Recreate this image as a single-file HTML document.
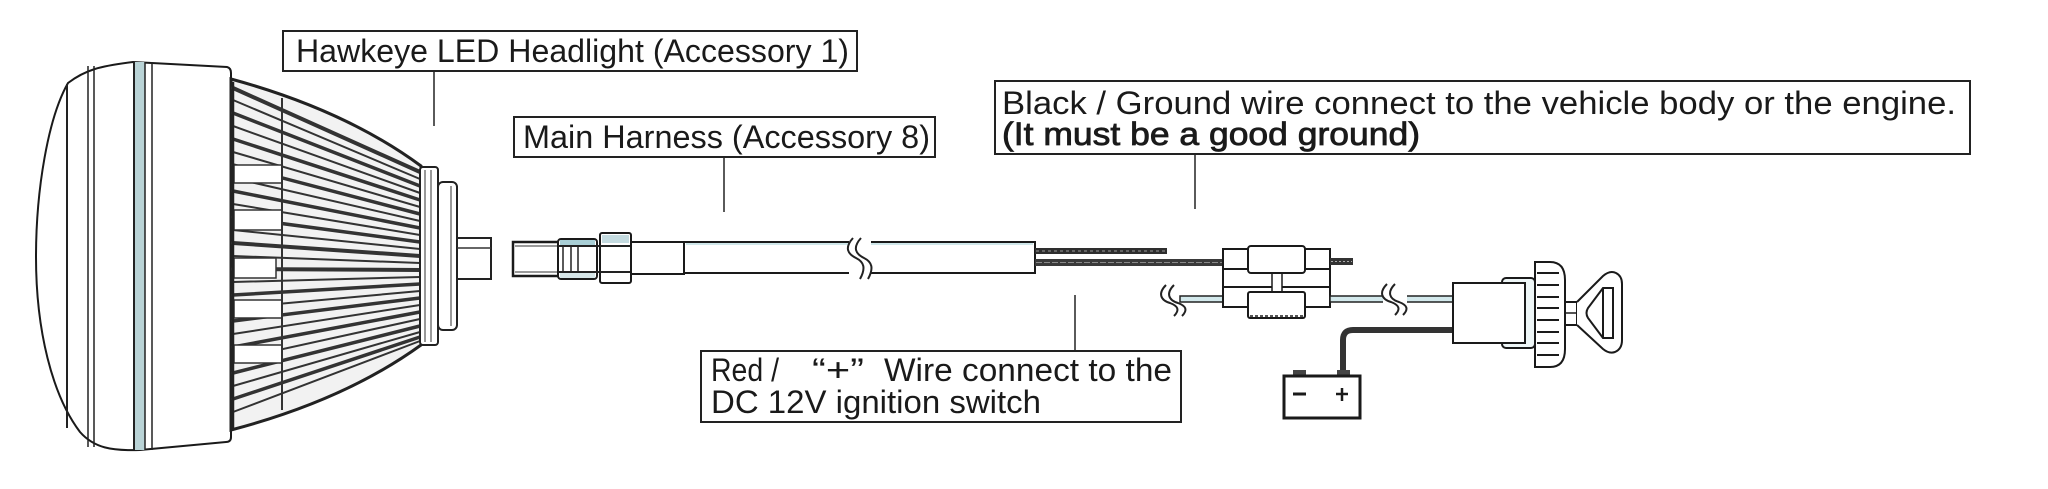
<!DOCTYPE html>
<html><head><meta charset="utf-8"><style>
html,body{margin:0;padding:0;background:#fff;}
svg{display:block;}
text{font-family:"Liberation Sans",sans-serif;fill:#1a1a1a;}
</style></head><body>
<svg width="2048" height="489" viewBox="0 0 2048 489" xmlns="http://www.w3.org/2000/svg">
<rect width="2048" height="489" fill="#fff"/>

<!-- ===== Headlight bezel ===== -->
<path d="M68,83 C85,70 100,66 133,62 L227,67 Q231,68 231,73 L231,437 Q231,442 226,442 L140,450 C112,451 94,448 80,432 C52,395 36,330 36,257 C36,190 48,118 68,83 Z" fill="#fff" stroke="#1a1a1a" stroke-width="2"/>
<line x1="67" y1="84" x2="67" y2="428" stroke="#222" stroke-width="2"/>
<line x1="88" y1="66" x2="88" y2="447" stroke="#222" stroke-width="1.5"/>
<line x1="94" y1="66" x2="94" y2="447" stroke="#222" stroke-width="1.5"/>
<rect x="135" y="62" width="10" height="388" fill="#b9d3d6"/>
<line x1="134" y1="62" x2="134" y2="450" stroke="#222" stroke-width="2"/>
<line x1="145" y1="62" x2="145" y2="450" stroke="#222" stroke-width="1.5"/>
<line x1="152" y1="62" x2="152" y2="450" stroke="#222" stroke-width="1.5"/>

<!-- ===== Heat sink ===== -->
<path d="M231,79 Q345,110 421,166 L421,345 Q345,400 231,430 Z" fill="#f2f2f2" stroke="#222" stroke-width="3"/>
<g stroke="#333" stroke-linecap="round">
<line x1="233" y1="88" x2="420" y2="172" stroke-width="4"/>
<line x1="233" y1="100" x2="420" y2="179" stroke-width="2"/>
<line x1="233" y1="113" x2="420" y2="186" stroke-width="3.5"/>
<line x1="233" y1="126" x2="420" y2="193" stroke-width="2"/>
<line x1="233" y1="139" x2="420" y2="200" stroke-width="3.5"/>
<line x1="233" y1="152" x2="420" y2="207" stroke-width="2"/>
<line x1="233" y1="165" x2="420" y2="214" stroke-width="3.5"/>
<line x1="233" y1="178" x2="420" y2="221" stroke-width="2"/>
<line x1="233" y1="191" x2="420" y2="228" stroke-width="3.5"/>
<line x1="233" y1="204" x2="420" y2="235" stroke-width="2"/>
<line x1="233" y1="217" x2="420" y2="242" stroke-width="3.5"/>
<line x1="233" y1="230" x2="420" y2="249" stroke-width="2"/>
<line x1="233" y1="243" x2="420" y2="256" stroke-width="4"/>
<line x1="233" y1="256" x2="420" y2="263" stroke-width="2"/>
<line x1="233" y1="269" x2="420" y2="270" stroke-width="4"/>
<line x1="233" y1="282" x2="420" y2="277" stroke-width="2"/>
<line x1="233" y1="295" x2="420" y2="284" stroke-width="3.5"/>
<line x1="233" y1="308" x2="420" y2="291" stroke-width="2"/>
<line x1="233" y1="321" x2="420" y2="298" stroke-width="3.5"/>
<line x1="233" y1="334" x2="420" y2="305" stroke-width="2"/>
<line x1="233" y1="347" x2="420" y2="312" stroke-width="3.5"/>
<line x1="233" y1="360" x2="420" y2="319" stroke-width="2"/>
<line x1="233" y1="373" x2="420" y2="326" stroke-width="3.5"/>
<line x1="233" y1="386" x2="420" y2="332" stroke-width="2"/>
<line x1="233" y1="399" x2="420" y2="337" stroke-width="3.5"/>
<line x1="233" y1="412" x2="420" y2="341" stroke-width="2"/>
</g>
<!-- divider / notches -->
<g fill="#fff" stroke="#333" stroke-width="1.5">
<rect x="234" y="165" width="48" height="18"/>
<rect x="234" y="210" width="48" height="20"/>
<rect x="234" y="258" width="42" height="20"/>
<rect x="234" y="300" width="48" height="18"/>
<rect x="234" y="345" width="48" height="18"/>
</g>
<line x1="282" y1="98" x2="282" y2="410" stroke="#333" stroke-width="2"/>
<line x1="233" y1="82" x2="233" y2="428" stroke="#222" stroke-width="2.5"/>
<!-- ring -->
<rect x="420" y="167" width="18" height="178" rx="3" fill="#fff" stroke="#222" stroke-width="2"/>
<line x1="425" y1="170" x2="425" y2="342" stroke="#333" stroke-width="1"/>
<line x1="431" y1="170" x2="431" y2="342" stroke="#333" stroke-width="1"/>
<!-- cap -->
<rect x="438" y="182" width="19" height="148" rx="5" fill="#fff" stroke="#222" stroke-width="2"/>
<line x1="451" y1="186" x2="451" y2="326" stroke="#333" stroke-width="1"/>
<!-- plug -->
<rect x="457" y="238" width="34" height="41" fill="#fff" stroke="#222" stroke-width="2"/>
<line x1="457" y1="248" x2="491" y2="248" stroke="#333" stroke-width="1.5"/>

<!-- ===== Connector & harness ===== -->
<rect x="513" y="242" width="47" height="34" fill="#fff" stroke="#1a1a1a" stroke-width="2.5"/>
<line x1="515" y1="246" x2="558" y2="246" stroke="#333" stroke-width="1"/>
<line x1="515" y1="272" x2="558" y2="272" stroke="#333" stroke-width="1"/>
<rect x="558" y="239" width="39" height="40" rx="3" fill="#fff" stroke="#1a1a1a" stroke-width="2"/>
<rect x="560" y="240" width="35" height="5" fill="#a9cfd6"/>
<rect x="560" y="273" width="35" height="5" fill="#d6e6e8"/>
<line x1="558" y1="246" x2="631" y2="246" stroke="#222" stroke-width="2"/>
<line x1="558" y1="272" x2="631" y2="272" stroke="#222" stroke-width="2"/>
<line x1="563" y1="246" x2="563" y2="272" stroke="#222" stroke-width="1.5"/>
<line x1="571" y1="246" x2="571" y2="272" stroke="#222" stroke-width="1.5"/>
<line x1="578" y1="246" x2="578" y2="272" stroke="#222" stroke-width="1.5"/>
<rect x="600" y="233" width="31" height="50" rx="2" fill="none" stroke="#1a1a1a" stroke-width="2"/>
<rect x="602" y="235" width="27" height="8" fill="#c4dbe0"/>
<line x1="600" y1="246" x2="631" y2="246" stroke="#222" stroke-width="2"/>
<line x1="600" y1="272" x2="631" y2="272" stroke="#222" stroke-width="2"/>
<rect x="631" y="242" width="53" height="32" fill="#fff" stroke="#1a1a1a" stroke-width="2"/>
<rect x="684" y="242" width="351" height="31" fill="#fff" stroke="#1a1a1a" stroke-width="2"/>
<line x1="686" y1="244" x2="1033" y2="244" stroke="#cfe7ea" stroke-width="2"/>
<!-- break -->
<rect x="849" y="240" width="22" height="36" fill="#fff"/>
<path d="M853,238 C844,248 848,254 856,258 C864,262 866,268 860,279" fill="none" stroke="#222" stroke-width="2"/>
<path d="M861,238 C852,248 856,254 864,258 C872,262 874,268 868,279" fill="none" stroke="#222" stroke-width="2"/>

<!-- wires -->
<rect x="1035" y="248" width="132" height="6" fill="#2e2e2e"/>
<line x1="1036" y1="251" x2="1166" y2="251" stroke="#999" stroke-width="1" stroke-dasharray="3 3"/>
<rect x="1035" y="259" width="188" height="7" fill="#3a3a3a"/>
<line x1="1036" y1="262.5" x2="1222" y2="262.5" stroke="#8a8a8a" stroke-width="1" stroke-dasharray="6 2"/>

<!-- lower-left wire with break -->
<path d="M1166,285 C1158,293 1160,300 1170,303 C1178,306 1180,310 1174,316" fill="none" stroke="#222" stroke-width="2"/>
<path d="M1174,285 C1166,293 1168,300 1178,303 C1186,306 1188,310 1182,316" fill="none" stroke="#222" stroke-width="2"/>
<rect x="1180" y="296" width="43" height="6" fill="#d3e9ec" stroke="#222" stroke-width="1.5"/>

<!-- fuse holder -->
<rect x="1223" y="249" width="107" height="58" fill="#fff" stroke="#1a1a1a" stroke-width="2"/>
<line x1="1223" y1="269" x2="1330" y2="269" stroke="#1a1a1a" stroke-width="2"/>
<line x1="1223" y1="287" x2="1330" y2="287" stroke="#1a1a1a" stroke-width="2"/>
<rect x="1272" y="272" width="10" height="20" fill="#fff" stroke="#1a1a1a" stroke-width="1.5"/>
<rect x="1248" y="246" width="57" height="27" rx="3" fill="#fff" stroke="#1a1a1a" stroke-width="2"/>
<rect x="1248" y="292" width="57" height="26" rx="2" fill="#fff" stroke="#1a1a1a" stroke-width="2"/>
<line x1="1250" y1="316" x2="1303" y2="316" stroke="#555" stroke-width="2" stroke-dasharray="3 2"/>
<rect x="1330" y="258" width="23" height="7" fill="#333"/>
<line x1="1331" y1="261.5" x2="1352" y2="261.5" stroke="#aaa" stroke-width="1" stroke-dasharray="2 2"/>

<!-- lower-right wire -->
<rect x="1330" y="296" width="123" height="6" fill="#d3e9ec" stroke="#222" stroke-width="1.5"/>
<rect x="1383" y="292" width="24" height="16" fill="#fff"/>
<path d="M1387,284 C1379,292 1381,299 1391,302 C1399,305 1401,309 1395,315" fill="none" stroke="#222" stroke-width="2"/>
<path d="M1395,284 C1387,292 1389,299 1399,302 C1407,305 1409,309 1403,315" fill="none" stroke="#222" stroke-width="2"/>

<!-- battery wire -->
<path d="M1454,330 L1353,330 Q1343,330 1343,340 L1343,373" fill="none" stroke="#333" stroke-width="6"/>

<!-- battery -->
<rect x="1293" y="370" width="13" height="6" fill="#444"/>
<rect x="1337" y="370" width="13" height="6" fill="#444"/>
<rect x="1284" y="376" width="76" height="42" fill="#fff" stroke="#1a1a1a" stroke-width="3"/>
<line x1="1293" y1="394" x2="1306" y2="394" stroke="#1a1a1a" stroke-width="3"/>
<line x1="1336" y1="394" x2="1348" y2="394" stroke="#1a1a1a" stroke-width="2.5"/>
<line x1="1342" y1="388" x2="1342" y2="401" stroke="#1a1a1a" stroke-width="2.5"/>

<!-- switch -->
<rect x="1502" y="278" width="33" height="70" rx="4" fill="#eef6f7" stroke="#1a1a1a" stroke-width="2"/>
<rect x="1453" y="283" width="72" height="60" fill="#fff" stroke="#1a1a1a" stroke-width="2"/>
<path d="M1535,262 L1550,262 Q1565,262 1565,280 L1565,349 Q1565,367 1550,367 L1535,367 Z" fill="#fff" stroke="#1a1a1a" stroke-width="2"/>
<g stroke="#1a1a1a" stroke-width="2">
<line x1="1537" y1="273" x2="1559" y2="273"/>
<line x1="1537" y1="285" x2="1559" y2="285"/>
<line x1="1537" y1="297" x2="1559" y2="297"/>
<line x1="1537" y1="308" x2="1559" y2="308"/>
<line x1="1537" y1="320" x2="1559" y2="320"/>
<line x1="1537" y1="332" x2="1559" y2="332"/>
<line x1="1537" y1="343" x2="1559" y2="343"/>
<line x1="1537" y1="355" x2="1559" y2="355"/>
</g>
<rect x="1565" y="302" width="12" height="23" fill="#fff" stroke="#1a1a1a" stroke-width="2"/>
<line x1="1565" y1="313" x2="1577" y2="313" stroke="#1a1a1a" stroke-width="1.5"/>
<!-- key -->
<path d="M1577,302 L1603,276 Q1610,270 1616,273 Q1622,276 1622,284 L1622,340 Q1622,349 1615,352 Q1609,354 1603,349 L1577,325" fill="#fff" stroke="#1a1a1a" stroke-width="2"/>
<path d="M1603,288 L1613,288 L1613,338 L1603,338 L1588,318 Q1585,313 1588,308 Z" fill="#fff" stroke="#1a1a1a" stroke-width="2"/>
<line x1="1603" y1="288" x2="1603" y2="338" stroke="#1a1a1a" stroke-width="2"/>

<!-- ===== Labels ===== -->
<g fill="#fff" stroke="#222" stroke-width="2">
<rect x="283" y="31" width="574" height="40"/>
<rect x="514" y="117" width="421" height="40"/>
<rect x="995" y="81" width="975" height="73"/>
<rect x="701" y="351" width="480" height="71"/>
</g>
<g stroke="#222" stroke-width="1.5">
<line x1="434" y1="71" x2="434" y2="126"/>
<line x1="724" y1="157" x2="724" y2="212"/>
<line x1="1195" y1="154" x2="1195" y2="209"/>
<line x1="1075" y1="295" x2="1075" y2="351"/>
</g>

<text x="296" y="62" font-size="32" textLength="553" lengthAdjust="spacingAndGlyphs">Hawkeye LED Headlight (Accessory 1)</text>
<text x="523" y="148" font-size="32" textLength="407" lengthAdjust="spacingAndGlyphs">Main Harness (Accessory 8)</text>
<text x="1002" y="114" font-size="32" textLength="954" lengthAdjust="spacingAndGlyphs">Black / Ground wire connect to the vehicle body or the engine.</text>
<text x="1002" y="145" font-size="32" stroke="#1a1a1a" stroke-width="0.8" textLength="418" lengthAdjust="spacingAndGlyphs">(It must be a good ground)</text>
<text x="711" y="381" font-size="32" textLength="68" lengthAdjust="spacingAndGlyphs">Red /</text>
<text x="812" y="381" font-size="32" textLength="52" lengthAdjust="spacingAndGlyphs">“+”</text>
<text x="884" y="381" font-size="32" textLength="288" lengthAdjust="spacingAndGlyphs">Wire connect to the</text>
<text x="711" y="413" font-size="32" textLength="330" lengthAdjust="spacingAndGlyphs">DC 12V ignition switch</text>
</svg>
</body></html>
